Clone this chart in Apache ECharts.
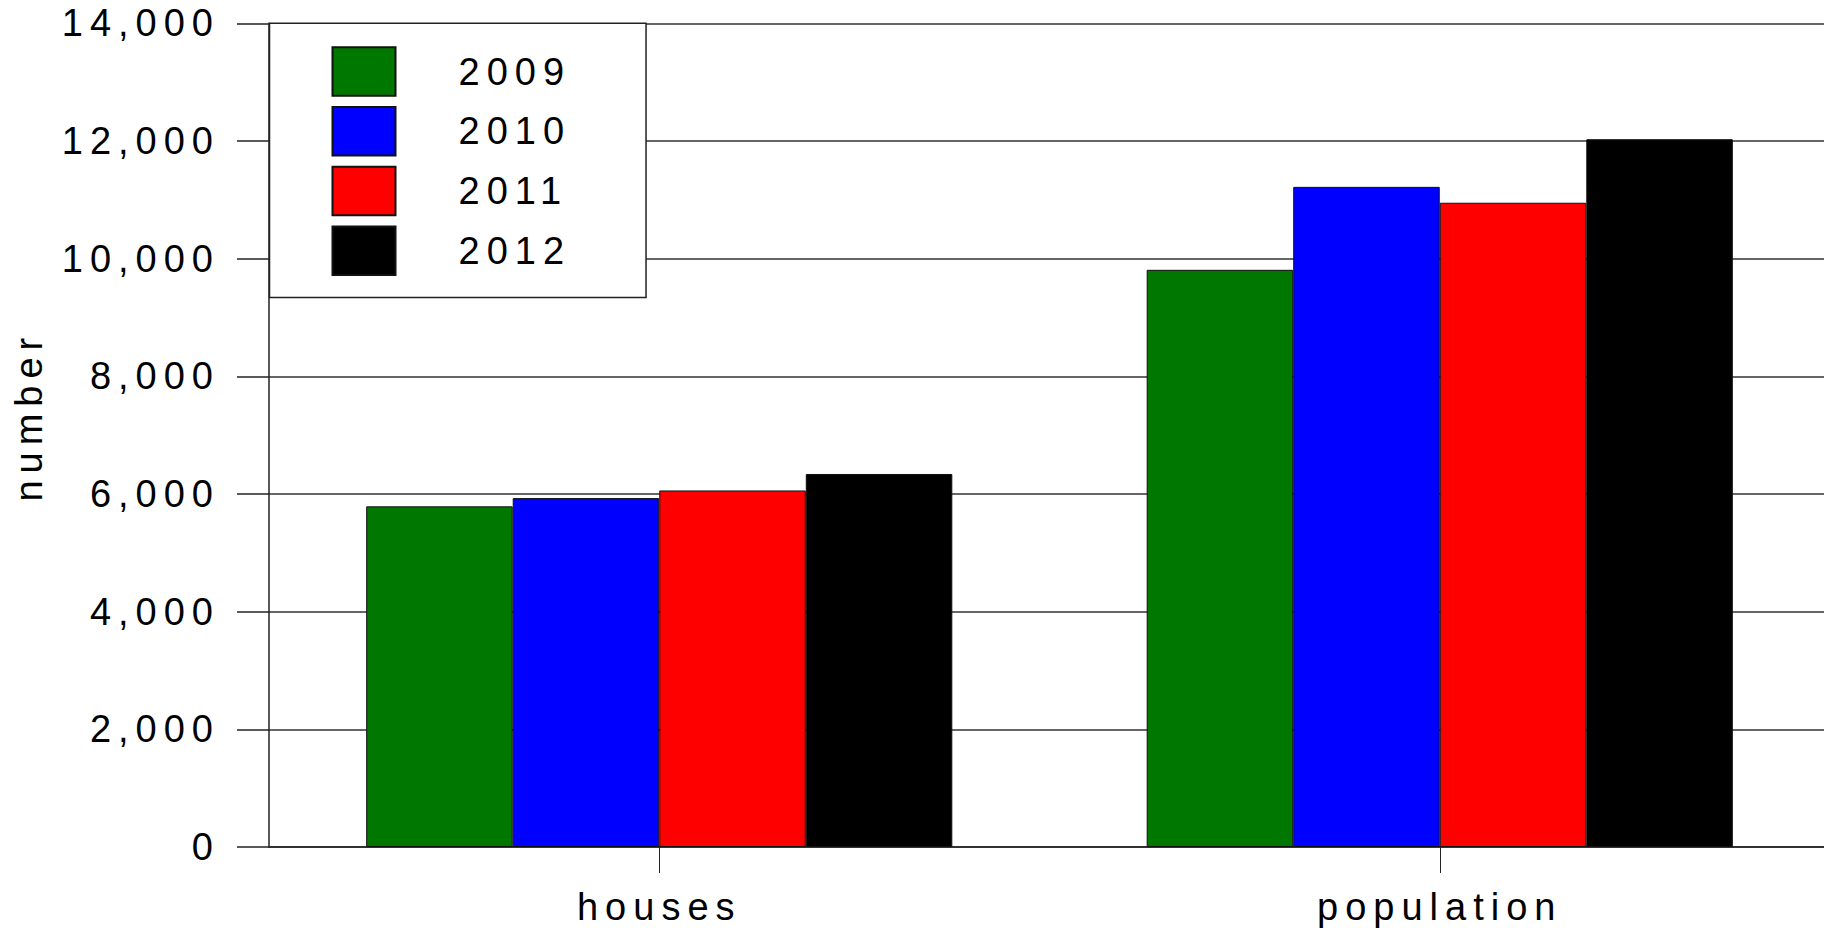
<!DOCTYPE html>
<html>
<head>
<meta charset="utf-8">
<script src="https://cdn.jsdelivr.net/npm/echarts@6/dist/echarts.min.js"></script>
<style>
html,body{margin:0;padding:0;background:#fff;overflow:hidden;}
#chart{width:1824px;height:930px;}
#chart text{letter-spacing:7px;}
</style>
</head>
<body>
<div id="chart"></div>
<script>
const categories = ['houses', 'population'];
const seriesNames = ['2009', '2010', '2011', '2012'];
const values2009 = [5790, 9810];
const values2010 = [5930, 11220];
const values2011 = [6060, 10950];
const values2012 = [6340, 12030];
const yTicks = { min: 0, max: 14000, interval: 2000 };
const colors = ['#007800', '#0000ff', '#ff0000', '#000000'];

const allValues = [values2009, values2010, values2011, values2012];
const font = 'Liberation Sans, Arial, sans-serif';

const chart = echarts.init(document.getElementById('chart'), null, { renderer: 'svg' });
chart.setOption({
  animation: false,
  backgroundColor: '#fff',
  textStyle: { fontFamily: font },
  grid: { left: 269, width: 1561, top: 23.3, bottom: 83, containLabel: false, outerBoundsMode: 'none' },
  legend: {
    orient: 'vertical',
    left: 269.5,
    top: 23.3,
    data: seriesNames,
    icon: 'rect',
    itemWidth: 63,
    itemHeight: 48.5,
    itemGap: 9.2,
    padding: [23, 103, 21.7, 62],
    backgroundColor: '#fff',
    borderColor: '#222',
    borderWidth: 1.5,
    textStyle: { fontSize: 38, lineHeight: 40, color: '#000', fontFamily: font, padding: [0, 0, 0, 58] }
  },
  xAxis: {
    type: 'category',
    data: categories,
    boundaryGap: true,
    axisLine: { show: true, lineStyle: { color: '#222', width: 1.5 } },
    axisTick: { show: true, alignWithLabel: true, length: 26, lineStyle: { color: '#222', width: 1 } },
    axisLabel: { fontSize: 38, color: '#000', margin: 41, fontFamily: font },
    splitLine: { show: false }
  },
  yAxis: {
    type: 'value',
    min: yTicks.min,
    max: yTicks.max,
    interval: yTicks.interval,
    name: 'number',
    nameLocation: 'middle',
    nameGap: 221,
    nameTextStyle: { fontSize: 38, color: '#000', fontFamily: font, padding: [0, 0, 0, 38] },
    axisLine: { show: true, lineStyle: { color: '#222', width: 1.5 } },
    axisTick: { show: true, inside: false, length: 32, lineStyle: { color: '#222', width: 1.5 } },
    axisLabel: {
      fontSize: 38, color: '#000', margin: 49, fontFamily: font,
      formatter: v => v.toLocaleString('en-US')
    },
    splitLine: { show: true, lineStyle: { color: '#333', width: 1.5 } }
  },
  series: seriesNames.map((name, i) => ({
    name: name,
    type: 'bar',
    data: allValues[i],
    barGap: '0%',
    barCategoryGap: '24.9%',
    itemStyle: { color: colors[i], borderColor: '#111', borderWidth: 1 }
  }))
});
</script>
</body>
</html>
